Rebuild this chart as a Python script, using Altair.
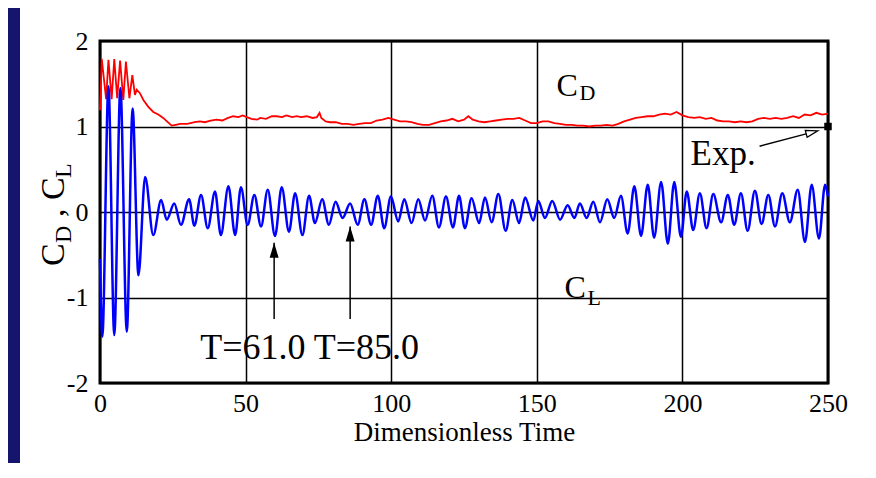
import altair as alt
import pandas as pd

# ---------------- data ----------------
# Lift coefficient C_L : times (t) and values (v) of successive extremes
cl_t = [0.0, 0.8, 2.9, 4.9, 7.0, 9.2, 11.2, 13.2, 15.5, 18.3,
        21.0, 22.9, 25.5, 27.8, 30.6, 32.4, 34.7, 37.0, 39.5, 41.5,
        44.1, 46.4, 48.4, 50.7, 53.0, 55.3, 57.6, 60.1, 62.4, 64.9,
        67.0, 69.5, 71.8, 73.8, 76.3, 78.6, 80.9, 83.3, 85.9, 88.5,
        90.8, 93.1, 95.4, 97.6, 99.9, 102.4, 104.5, 107.0, 109.3, 111.6,
        114.1, 116.4, 118.8, 121.2, 123.3, 125.3, 127.6, 130.2, 132.2, 134.5,
        136.8, 139.3, 141.6, 143.9, 146.0, 148.8, 150.5, 152.8, 155.3, 158.0,
        160.6, 162.9, 164.8, 167.1, 169.4, 171.7, 174.2, 176.6, 178.9, 181.2,
        183.5, 185.8, 188.1, 190.3, 192.7, 195.0, 197.2, 199.5, 201.5, 203.7,
        206.0, 208.3, 210.6, 213.3, 215.6, 217.8, 220.1, 222.4, 224.9, 227.2,
        229.5, 231.8, 234.3, 236.9, 239.6, 242.1, 244.4, 246.9, 249.0, 250.0]
cl_v = [-0.55, -1.46, 1.47, -1.44, 1.45, -1.40, 1.21, -0.74, 0.41, -0.27,
        0.14, -0.09, 0.10, -0.15, 0.15, -0.16, 0.20, -0.19, 0.24, -0.27,
        0.30, -0.27, 0.29, -0.15, 0.20, -0.17, 0.26, -0.28, 0.29, -0.23,
        0.22, -0.27, 0.19, -0.13, 0.15, -0.15, 0.12, -0.07, 0.10, -0.15,
        0.15, -0.15, 0.19, -0.19, 0.18, -0.11, 0.15, -0.13, 0.15, -0.10,
        0.19, -0.18, 0.18, -0.18, 0.19, -0.19, 0.16, -0.13, 0.17, -0.12,
        0.21, -0.22, 0.14, -0.13, 0.17, -0.10, 0.13, -0.07, 0.13, -0.09,
        0.08, -0.07, 0.10, -0.07, 0.12, -0.12, 0.15, -0.07, 0.19, -0.25,
        0.30, -0.28, 0.32, -0.30, 0.35, -0.37, 0.35, -0.29, 0.24, -0.21,
        0.22, -0.19, 0.21, -0.12, 0.20, -0.15, 0.22, -0.22, 0.25, -0.14,
        0.20, -0.17, 0.22, -0.12, 0.26, -0.35, 0.32, -0.31, 0.32, 0.18]

# Drag coefficient C_D
cd_t = [0.0, 0.6, 2.1, 2.9, 4.0, 4.9, 5.9, 6.9, 8.0, 8.9,
        10.1, 11.1, 12.0, 12.6, 13.7, 14.9, 16.6, 18.3, 20.0, 21.7,
        23.0, 24.6, 26.0, 27.5, 30.0, 32.5, 34.3, 36.0, 38.0, 40.0,
        42.0, 44.0, 45.7, 47.5, 49.0, 50.4, 52.0, 54.0, 55.0, 57.0,
        59.0, 60.7, 62.5, 64.0, 66.0, 67.5, 69.0, 71.0, 73.0, 74.5,
        75.4, 76.0, 77.5, 79.0, 81.0, 83.0, 85.0, 87.0, 89.0, 91.0,
        93.0, 95.0, 97.0, 99.0, 101.0, 103.0, 105.0, 107.0, 109.0, 111.0,
        113.0, 115.0, 117.0, 119.0, 121.0, 123.0, 125.0, 126.5, 128.0, 130.0,
        132.0, 134.0, 136.0, 138.0, 140.0, 142.0, 144.0, 146.0, 148.0, 150.0,
        152.0, 154.0, 156.0, 158.0, 160.0, 162.0, 164.0, 166.0, 168.0, 170.0,
        172.0, 174.0, 176.0, 178.0, 180.0, 182.0, 184.0, 186.0, 188.0, 190.0,
        192.0, 194.0, 196.0, 198.0, 200.0, 202.0, 204.0, 206.0, 208.0, 210.0,
        212.0, 214.0, 216.0, 218.0, 220.0, 222.0, 224.0, 226.0, 228.0, 230.0,
        232.0, 234.0, 236.0, 238.0, 240.0, 242.0, 244.0, 246.0, 248.0, 250.0]
cd_v = [1.19, 1.79, 1.32, 1.78, 1.32, 1.79, 1.33, 1.77, 1.31, 1.76,
        1.33, 1.60, 1.37, 1.43, 1.39, 1.31, 1.23, 1.17, 1.14, 1.10,
        1.06, 1.01, 1.02, 1.03, 1.03, 1.05, 1.06, 1.05, 1.07, 1.08,
        1.07, 1.10, 1.12, 1.11, 1.13, 1.11, 1.09, 1.08, 1.10, 1.09,
        1.12, 1.12, 1.11, 1.13, 1.11, 1.12, 1.11, 1.12, 1.10, 1.11,
        1.16, 1.10, 1.06, 1.05, 1.05, 1.03, 1.03, 1.02, 1.03, 1.04,
        1.04, 1.07, 1.08, 1.10, 1.08, 1.06, 1.06, 1.05, 1.03, 1.02,
        1.02, 1.04, 1.06, 1.07, 1.09, 1.06, 1.08, 1.12, 1.08, 1.06,
        1.05, 1.06, 1.07, 1.08, 1.09, 1.09, 1.10, 1.07, 1.04, 1.04,
        1.06, 1.06, 1.04, 1.03, 1.02, 1.02, 1.01, 1.01, 1.00, 1.01,
        1.01, 1.02, 1.01, 1.03, 1.06, 1.08, 1.10, 1.11, 1.12, 1.12,
        1.14, 1.15, 1.14, 1.17, 1.13, 1.11, 1.10, 1.11, 1.09, 1.10,
        1.07, 1.06, 1.06, 1.05, 1.06, 1.05, 1.06, 1.09, 1.10, 1.09,
        1.10, 1.09, 1.10, 1.12, 1.10, 1.14, 1.13, 1.16, 1.14, 1.15]

x_ticks = [0, 50, 100, 150, 200, 250]
y_ticks = [-2, -1, 0, 1, 2]

# annotations (data units)
t_arrow_t = [59.8, 85.9]
t_arrow_tip = [-0.36, -0.17]
t_arrow_base = [-1.25, -1.25]
t_label = "T=61.0 T=85.0"
t_label_pos = (34.4, -1.715)

exp_t = [250.0]
exp_v = [1.0]
exp_arrow = (226.5, 0.77, 242.5, 0.914)   # start t, start v, end t, end v
exp_tip = (246.5, 0.95)
exp_label_pos = (202.8, 0.547)

cd_label_pos = [(156.8, 1.36), (164.7, 1.31)]
cl_label_pos = [(159.5, -1.00), (167.4, -1.09)]

FONT = "'Times New Roman', 'Liberation Serif', Times, serif"
NAVY = "#15156e"

# ---------------- chart ----------------
axis_common = dict(
    grid=True, domain=False, ticks=False, tickSize=0,
    labelFont=FONT, labelFontSize=26, labelColor="black",
    labelOverlap=False, labelFlush=False,
    gridColor="black", gridWidth=1.5, gridOpacity=1,
    titleFont=FONT, titleFontWeight="normal", titleColor="black",
)

x_enc = alt.X("t:Q", scale=alt.Scale(domain=[0, 250], nice=False, zero=False),
              axis=alt.Axis(values=x_ticks, title="Dimensionless Time",
                            titleFontSize=27, titlePadding=3, labelPadding=7,
                            **axis_common))
y_enc = alt.Y("v:Q", scale=alt.Scale(domain=[-2, 2], nice=False, zero=False),
              axis=alt.Axis(values=y_ticks, title="", labelPadding=12,
                            labelExpr="datum.value < 0 ? '-' + abs(datum.value) : '' + datum.value",
                            **axis_common))

one = pd.DataFrame({"a": [0]})

strip = alt.Chart(one).mark_rect(color=NAVY).encode(
    x=alt.value(-92), x2=alt.value(-80), y=alt.value(-33), y2=alt.value(422))

cd_df = pd.DataFrame({"t": cd_t, "v": cd_v})
cl_df = pd.DataFrame({"t": cl_t, "v": cl_v})

cd_line = alt.Chart(cd_df).mark_line(color="#ff0000", strokeWidth=1.8).encode(x=x_enc, y=y_enc)
cl_line = alt.Chart(cl_df).mark_line(color="#0000ff", strokeWidth=2.5,
                                     interpolate="monotone").encode(x=x_enc, y=y_enc)

arr_df = pd.DataFrame({"t": t_arrow_t, "v": t_arrow_base, "v2": t_arrow_tip})
arr_rule = alt.Chart(arr_df).mark_rule(color="black", strokeWidth=1.5).encode(
    x=x_enc, y=y_enc, y2="v2:Q")
head_df = pd.DataFrame({"t": t_arrow_t, "v": t_arrow_tip})
arr_head = alt.Chart(head_df).mark_point(
    shape="M0,0L-0.3,1L0.3,1Z", size=900, filled=True, color="black", opacity=1
).encode(x=x_enc, y=y_enc)

exp_df = pd.DataFrame({"t": exp_t, "v": exp_v})
exp_pt = alt.Chart(exp_df).mark_square(size=56, color="black", opacity=1).encode(x=x_enc, y=y_enc)

exp_line_df = pd.DataFrame({"t": [exp_arrow[0]], "v": [exp_arrow[1]],
                            "t2": [exp_arrow[2]], "v2": [exp_arrow[3]]})
exp_line = alt.Chart(exp_line_df).mark_rule(color="black", strokeWidth=1.5).encode(
    x=x_enc, y=y_enc, x2="t2:Q", y2="v2:Q")
exp_head_df = pd.DataFrame({"t": [exp_tip[0]], "v": [exp_tip[1]]})
exp_head = alt.Chart(exp_head_df).mark_point(
    shape="M0,0L-1,-0.3L-1,0.3Z", size=576, filled=False, stroke="black",
    strokeWidth=1.3, angle=345, opacity=1
).encode(x=x_enc, y=y_enc)


def txt(t, v, s, size):
    df = pd.DataFrame({"t": [t], "v": [v], "s": [s]})
    return alt.Chart(df).mark_text(font=FONT, fontSize=size, color="black",
                                   align="left", baseline="alphabetic").encode(
        x=x_enc, y=y_enc, text="s:N")


labels = [
    txt(t_label_pos[0], t_label_pos[1], t_label, 36),
    txt(exp_label_pos[0], exp_label_pos[1], "Exp.", 35),
    txt(cd_label_pos[0][0], cd_label_pos[0][1], "C", 32),
    txt(cd_label_pos[1][0], cd_label_pos[1][1], "D", 22),
    txt(cl_label_pos[0][0], cl_label_pos[0][1], "C", 32),
    txt(cl_label_pos[1][0], cl_label_pos[1][1], "L", 22),
]


def ytitle(px, py, s, size):
    return alt.Chart(one).mark_text(font=FONT, fontSize=size, color="black", angle=270,
                                    align="left", baseline="alphabetic").encode(
        x=alt.value(px), y=alt.value(py), text=alt.value(s))


ytitles = [
    ytitle(-36, 225, "C", 34),
    ytitle(-29, 202, "D", 24),
    ytitle(-36, 176, ",", 34),
    ytitle(-36, 159, "C", 34),
    ytitle(-29, 137, "L", 24),
]

chart = alt.layer(
    strip, cd_line, cl_line, arr_rule, arr_head, exp_line, exp_head, exp_pt,
    *labels, *ytitles
).properties(
    width=728, height=342,
    autosize=alt.AutoSizeParams(type="none"),
    padding={"left": 92, "top": 33, "right": 40, "bottom": 80},
).configure(background="white").configure_view(stroke="black", strokeWidth=3)

chart.save("out.html", embed_options={"renderer": "svg", "actions": False})
